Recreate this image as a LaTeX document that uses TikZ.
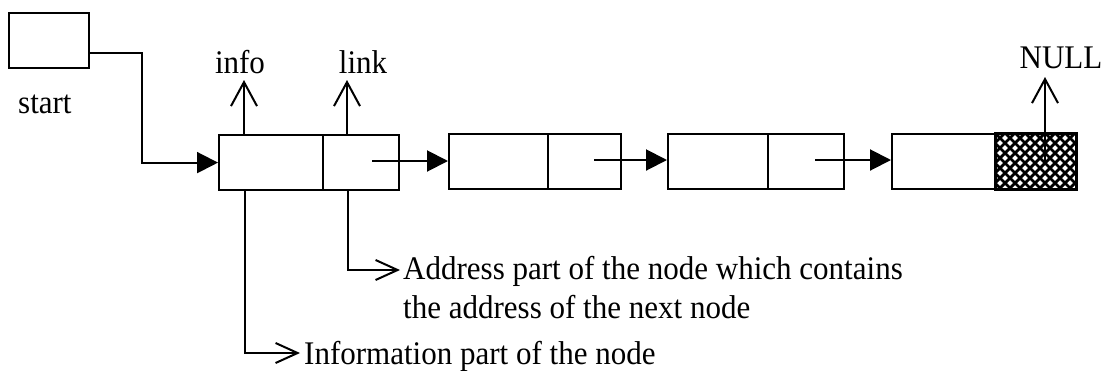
\documentclass[tikz,border=0pt]{standalone}
\usepackage{fontspec}
\setmainfont{Liberation Serif}[FakeStretch=0.94]
\usetikzlibrary{arrows.meta}
\begin{document}
\begin{tikzpicture}[x=1pt,y=-1pt,
  every node/.style={font=\fontsize{33pt}{40pt}\selectfont, inner sep=0pt},
  cell/.style={draw, line width=2.2pt, minimum height=55pt, anchor=north west},
  wire/.style={line width=2pt},
  feed/.style={wire, -{Triangle[length=21pt,width=21pt]}},
  upbarb/.style={wire, -{Straight Barb[length=24pt,width=26pt,line width=2pt]}},
  sidebarb/.style={wire, -{Straight Barb[length=22pt,width=20pt,line width=2pt]}}]
\useasboundingbox (0,0) rectangle (1110,370);

% head pointer box
\node[cell, minimum width=80pt] (start) at (8,12) {};
\node[anchor=base west] (startlbl) at (18,113) {start};

% list nodes: information part and link part
\node[cell, minimum width=104pt] (n1i) at (218,134) {};
\node[cell, minimum width=76pt]  (n1l) at (322,134) {};
\node[cell, minimum width=99pt]  (n2i) at (448,133) {};
\node[cell, minimum width=73pt]  (n2l) at (547,133) {};
\node[cell, minimum width=100pt] (n3i) at (667,133) {};
\node[cell, minimum width=76pt]  (n3l) at (767,133) {};
\node[cell, minimum width=104pt] (n4i) at (891,133) {};
\node[cell, minimum width=80pt]  (n4l) at (995,133) {};

% cross-hatched null link
\begin{scope}
  \clip (n4l.north west) rectangle (n4l.south east);
  \foreach \k in {-70,-60,...,150} {
    \draw[line width=2.8pt] (995+\k,133) -- ++(60,60);
    \draw[line width=2.8pt] (995+\k,133) -- ++(-60,60);
  }
\end{scope}
\draw[line width=2.2pt] (n4l.north west) rectangle (n4l.south east);

% head pointer into the first node
\draw[feed] ([yshift=-12.5pt]start.east) -- ++(52,0) |- (n1i.west);

% links between nodes
\coordinate (p1) at (372,161);
\coordinate (p2) at (594,160);
\coordinate (p3) at (815,160);
\draw[feed] (p1) -- (p1 -| n2i.west);
\draw[feed] (p2) -- (p2 -| n3i.west);
\draw[feed] (p3) -- (p3 -| n4i.west);

% field labels above
\node[anchor=base] (info) at (240,73) {info};
\node[anchor=base] (link) at (363,73) {link};
\node[anchor=base] (null) at (1061,68) {NULL};
\coordinate (ia) at (244,80);
\coordinate (la) at (347,80);
\coordinate (na) at (1045,77);
\draw[upbarb] (ia |- n1i.north) -- (ia);
\draw[upbarb] (la |- n1l.north) -- (la);
\draw[upbarb] (na |- n4l.center) -- (na);

% explanations below
\node[anchor=base west] (addr1) at (403,279) {Address part of the node which contains};
\node[anchor=base west] (addr2) at (403,318) {the address of the next node};
\node[anchor=base west] (infotxt) at (304,364) {Information part of the node};
\coordinate (ix) at (245,353);
\coordinate (ib) at (300,353);
\coordinate (lx) at (348,270);
\coordinate (lb) at (400,270);
\draw[sidebarb] (ix |- n1i.south) -- (ix) -- (ib);
\draw[sidebarb] (lx |- n1l.south) -- (lx) -- (lb);
\end{tikzpicture}
\end{document}
